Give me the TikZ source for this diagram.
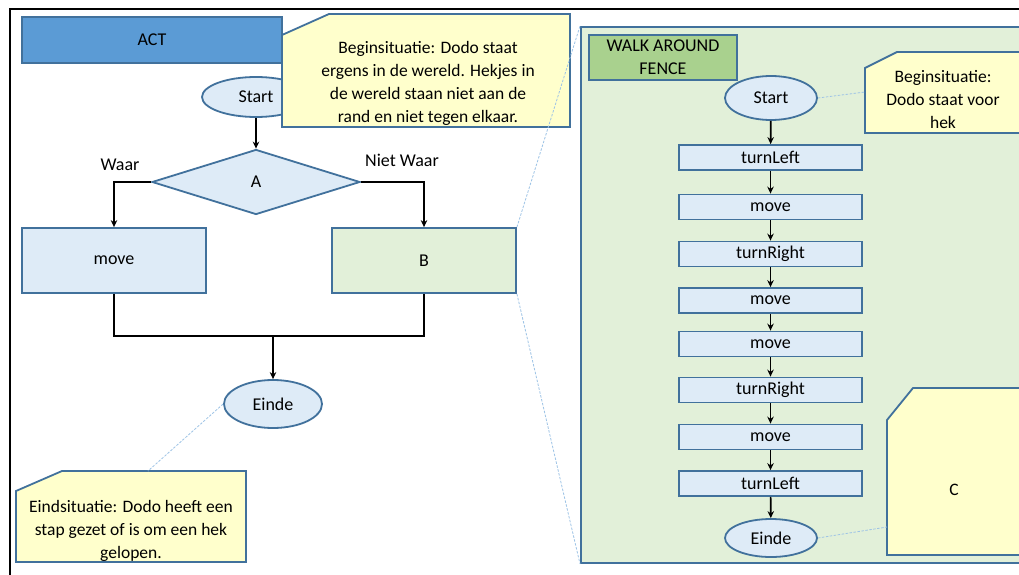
\documentclass[tikz,border=0pt]{standalone}
\usepackage{fontspec}
\setmainfont{Carlito}
\usetikzlibrary{shapes.geometric,arrows.meta}
\definecolor{bord}{HTML}{41719C}
\definecolor{lblue}{HTML}{DEEBF7}
\definecolor{lgreen}{HTML}{E2F0D9}
\definecolor{yel}{HTML}{FFFFCC}
\definecolor{actblue}{HTML}{5B9BD5}
\definecolor{wgreen}{HTML}{A9D18E}
\definecolor{dashcol}{HTML}{9DC3E6}
\begin{document}
\begin{tikzpicture}[x=1pt,y=-1pt,
  txt/.style={font=\fontsize{18}{23}\selectfont},
  box/.style={txt,draw=bord,line width=1.8pt,fill=lblue,rectangle,inner sep=0pt},
  oval/.style={txt,draw=bord,line width=1.8pt,fill=lblue,ellipse,inner sep=0pt},
  callout/.style={draw=bord,line width=1.8pt,fill=yel},
  note/.style={font=\fontsize{17.5}{23}\selectfont,align=center,inner sep=0pt},
  arr/.style={line width=1.7pt,-{Stealth[length=7pt,width=6.5pt]}},
  flow/.style={line width=1.7pt},
  zoomline/.style={draw=dashcol,line width=0.8pt,dash pattern=on 2.5pt off 1.5pt}]
\clip (0,0) rectangle (1019,575);
\fill[white] (0,0) rectangle (1019,575);
% frame
\draw[line width=2.5pt] (10,576) -- (10,9) -- (1022,9);
% left flow
\node[box,fill=actblue,minimum width=260,minimum height=46] (act) at (152,40) {ACT};
\node[oval,minimum width=108,minimum height=40] (startL) at (256,97) {Start};
\node[txt,draw=bord,line width=1.8pt,fill=lblue,diamond,inner sep=0pt,minimum width=208,minimum height=65] (A) at (256,182) {A};
\node[box,minimum width=184,minimum height=65] (move) at (114,260.5) {move};
\node[box,fill=lgreen,minimum width=184,minimum height=65] (B) at (424,260.5) {B};
\node[oval,minimum width=98,minimum height=48] (endL) at (273,404) {Einde};
\node[txt] (waar) at (120,165) {Waar};
\node[txt] (nwaar) at (402,160) {Niet Waar};
\coordinate (join) at (273,336);
\draw[arr] (startL) -- (A);
\draw[arr] (A.west) -| (move.north);
\draw[arr] (A.east) -| (B.north);
\draw[flow] (move.south) |- (join) -| (B.south);
\draw[arr] (join) -- (endL);
% top callout
\draw[callout] (282,35) -- (329,14) -- (570,14) -- (570,127) -- (282,127) -- cycle;
\node[note] (cbeg) at (428,83) {Beginsituatie: Dodo staat\\ergens in de wereld. Hekjes in\\de wereld staan niet aan de\\rand en niet tegen elkaar.};
% bottom callout
\draw[callout] (16,491) -- (62,471) -- (246,471) -- (246,562) -- (16,562) -- cycle;
\node[note] (ceind) at (131,531) {Eindsituatie: Dodo heeft een\\stap gezet of is om een hek\\gelopen.};
\coordinate (ceindtop) at (148,471);
% right panel
\node[draw=bord,line width=1.8pt,fill=lgreen,rectangle,anchor=north west,minimum width=460,minimum height=536,inner sep=0pt] (panel) at (580,26) {};
\node[box,fill=wgreen,minimum width=148,minimum height=45,align=center] (walk) at (663,57.5) {WALK AROUND\\FENCE};
\node[oval,minimum width=92,minimum height=44] (startR) at (771,98) {Start};
\foreach \n/\t/\y in {s1/turnLeft/157.5,s2/move/207,s3/turnRight/254,s4/move/300.5,s5/move/344,s6/turnRight/390,s7/move/437,s8/turnLeft/483.5}
  \node[box,minimum width=183,minimum height=25] (\n) at (770.5,\y) {\t};
\node[oval,minimum width=92,minimum height=38] (endR) at (771,538) {Einde};
\draw[arr] (startR) -- (s1);
\foreach \a/\b in {s1/s2,s2/s3,s3/s4,s4/s5,s5/s6,s6/s7,s7/s8}
  \draw[arr] (\a) -- (\b);
\draw[arr] (s8) -- (endR);
% right callouts
\draw[callout] (865,68) -- (897,52) -- (1030,52) -- (1030,133) -- (865,133) -- cycle;
\node[note] (cbegR) at (943,100) {Beginsituatie:\\Dodo staat voor\\hek};
\coordinate (cbegRl) at (865,92);
\draw[callout] (887,420) -- (913,388) -- (1030,388) -- (1030,555) -- (887,555) -- cycle;
\node[note] (cC) at (954,490) {C};
\coordinate (cCl) at (887,527);
% zoom lines
\draw[zoomline] (B.north east) -- (panel.north west);
\draw[zoomline] (B.south east) -- (panel.south west);
\draw[zoomline] (endL.west) -- (ceindtop);
\draw[zoomline] (startR.east) -- (cbegRl);
\draw[zoomline] (endR.east) -- (cCl);
\end{tikzpicture}
\end{document}
